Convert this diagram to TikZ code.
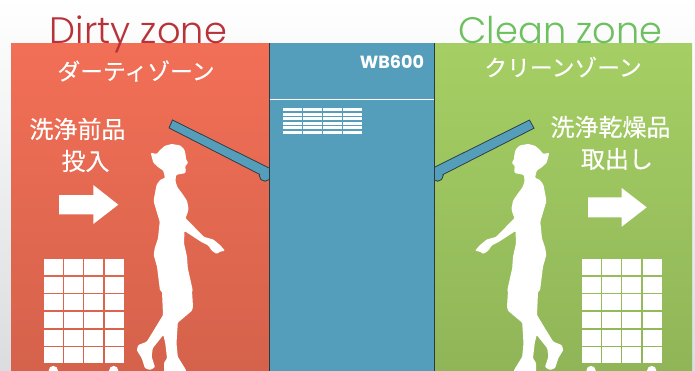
\documentclass[tikz,border=0pt]{standalone}
\usepackage{fontspec}
\setmainfont{Poppins}
\newfontfamily\zonefont{Poppins Light}
\newfontfamily\jpfont[FakeBold=0.25]{Noto Sans CJK JP}
\usepackage{tikz}
\definecolor{dirtyred}{HTML}{B9323A}
\definecolor{cleangreen}{HTML}{6CC05E}
\definecolor{wallblue}{HTML}{549DBB}
\definecolor{walledge}{HTML}{2C3A40}
\definecolor{redtop}{HTML}{F26F56}
\definecolor{redbot}{HTML}{D5624B}
\definecolor{greentop}{HTML}{A5CF64}
\definecolor{greenbot}{HTML}{90B558}
\definecolor{pagebot}{HTML}{DADCDF}
\newcommand{\womanpath}{(150.7,152.7) -- (156.7,154) -- (160,150) -- (165,145.7) -- (171.7,144) -- (180,145.3)
-- (184.3,149.3) -- (185.7,155) -- (186,159.3) -- (188.3,162.7) -- (186,165.3) -- (185,166.7) -- (186,170.7)
-- (185,173.3) -- (180,174) -- (176,175) -- (175.5,181.7) -- (177.5,187.3) -- (182.5,194) -- (187,200.7)
-- (188.5,208.3) -- (187.5,213.3) -- (185.5,218) -- (203.8,236.8) -- (213.3,239.5) -- (220,245) -- (225,250.7)
-- (220,251.7) -- (216.7,254) -- (211.7,250.7) -- (208.3,245.5) -- (201.7,242.2) -- (184.5,231) -- (184,243.3)
-- (187,256.7) -- (187.8,268.3) -- (192.7,290) -- (192,290.7) -- (193,306.7) -- (192,310.7)
-- (177.8,322.7) -- (176.5,343.3) -- (177.8,356.7) -- (186,370) -- (186,376) -- (164,376) -- (164,362.7)
-- (167,358.3) -- (165.3,343.3) -- (163.3,335) -- (152.7,348.3) -- (151.7,356.7) -- (155,367.3) -- (150,370)
-- (145,368.3) -- (141.7,358.3) -- (136.7,350) -- (138.3,345) -- (146.7,341.7) -- (155,328.3) -- (163,315)
-- (162,291.7) -- (160,290.7) -- (157,266.7) -- (153.7,255) -- (154.7,248.3) -- (158,238.3) -- (159.7,221.7)
-- (153.7,201.7) -- (154,198.3) -- (156.5,185) -- (160,180) -- (165,177.7) -- (163.3,170.7) -- (158.3,167.3)
-- (153.3,162.7) -- (151.7,156.7) -- cycle}
\tikzset{
  zonetitle/.style={font=\zonefont\fontsize{36.8}{37}\selectfont},
  jplabel/.style={white,font=\jpfont\fontsize{22.8}{23}\selectfont,inner sep=0pt},
  jpbig/.style={white,font=\jpfont\fontsize{24}{24}\selectfont,inner sep=0pt},
  lidedge/.style={draw=walledge,line width=1.8pt},
  womanfill/.style={fill=white,rounded corners=1pt},
}
\begin{document}
\begin{tikzpicture}[x=1pt,y=-1pt]
\useasboundingbox (0,0) rectangle (695,370);
\fill[top color=white,bottom color=pagebot] (-1,-1) rectangle (696,372);
\fill[top color=redtop,bottom color=redbot] (11,43) rectangle (269,372);
\fill[top color=greentop,bottom color=greenbot] (434,43) rectangle (692,372);
\draw[lidedge] (265,175.5) circle (5.2);
\draw[lidedge] (172.7,120.7) -- (169.7,127.7) -- (262,175) -- (272,170) -- cycle;
\fill[wallblue] (265,175.5) circle (5.2);
\fill[wallblue] (172.7,120.7) -- (169.7,127.7) -- (262,175) -- (272,170) -- cycle;
\draw[lidedge] (437.5,175.5) circle (5.2);
\draw[lidedge] (529.3,120.7) -- (533.3,128) -- (441,175) -- (430,170) -- cycle;
\fill[wallblue] (437.5,175.5) circle (5.2);
\fill[wallblue] (529.3,120.7) -- (533.3,128) -- (441,175) -- (430,170) -- cycle;
\fill[wallblue] (269,43) rectangle (434,372);
\draw[walledge,line width=1pt] (269,43) -- (269,372);
\draw[walledge,line width=1pt] (434,43) -- (434,372);
\draw[white,line width=0.8pt] (269.5,99.5) -- (433.5,99.5);
\foreach \col in {0,1,2,3}
  \foreach \row in {0,...,5}
    \fill[white] (283+20*\col,108+4.6*\row) rectangle +(19,3);
\foreach \x in {44,64,84,105,582,602,622,643}
  \foreach \y in {259,276.7,294,312,330,347}
    \fill[white] (\x,\y) rectangle +(19,16);
\foreach \x in {53.3,113.7,591,651.7}
  \fill[white] (\x,370.5) circle (4.6);
\fill[white] (59,195) -- (93.3,195) -- (93.3,185) -- (118.3,204.7) -- (93.3,224) -- (93.3,214.3) -- (59,214.3) -- cycle;
\fill[white] (588,197.3) -- (621.7,197.3) -- (621.7,188) -- (646.7,207.3) -- (621.7,226.7) -- (621.7,217.3) -- (588,217.3) -- cycle;
\path[womanfill] \womanpath;
\begin{scope}[shift={(700,0)},xscale=-1]
\path[womanfill] \womanpath;
\end{scope}
\node[zonetitle,text=dirtyred,anchor=base,inner sep=0pt] (dirty) at (138.5,43.3) {Dirty zone};
\node[zonetitle,text=cleangreen,anchor=base,inner sep=0pt] (clean) at (560.5,43.3) {Clean zone};
\node[jplabel] (dirtyjp) at (136,71) {ダーティゾーン};
\node[jplabel] (cleanjp) at (563,67) {クリーンゾーン};
\node[jpbig] (inputa) at (77.5,129) {洗浄前品};
\node[jpbig] (inputb) at (85.5,161) {投入};
\node[jpbig] (outputa) at (610.5,127) {洗浄乾燥品};
\node[jpbig] (outputb) at (617,159) {取出し};
\node[white,font=\bfseries\fontsize{17.6}{18}\selectfont,inner sep=0pt] (model) at (392,61.5) {WB600};
\end{tikzpicture}
\end{document}
